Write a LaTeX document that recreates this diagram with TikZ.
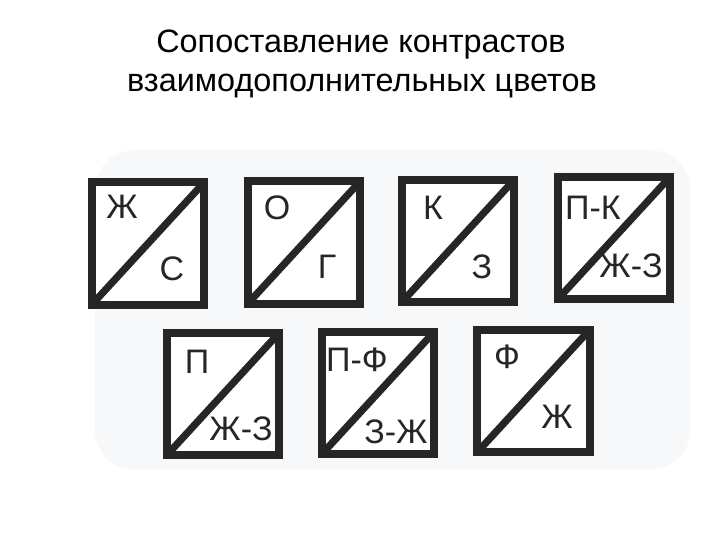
\documentclass[tikz,border=0pt]{standalone}
\usepackage{fontspec}
\setmainfont{Liberation Sans}
\definecolor{ink}{HTML}{262626}
\definecolor{bg}{HTML}{F6F8FA}
\begin{document}
\begin{tikzpicture}[x=0.5pt,y=-0.5pt,
  box/.style={fill=white, minimum width=56pt, minimum height=61pt, inner sep=0pt},
  frame/.style={draw=ink, line width=4pt},
  diag/.style={draw=ink, line width=3.6pt},
  lbl/.style={text=ink, font=\fontsize{17}{19}\selectfont, inner sep=0pt},
  ttl/.style={text=black, font=\fontsize{16.2}{18}\selectfont, inner sep=0pt, anchor=base}]
\useasboundingbox (0,0) rectangle (720,540);
\fill[white] (0,0) rectangle (720,540);
\fill[bg, rounded corners=20pt] (95,150) rectangle (690,470);
% title
\node[ttl] (t1) at (361,53) {Сопоставление контрастов};
\node[ttl] (t2) at (362,92) {взаимодополнительных цветов};
% boxes
\node[box] (b1) at (148,243.5) {};
\node[box] (b2) at (304,242.5) {};
\node[box] (b3) at (458,241) {};
\node[box] (b4) at (614,238) {};
\node[box] (b5) at (223,394) {};
\node[box] (b6) at (378,393) {};
\node[box] (b7) at (533.5,391) {};
\foreach \b in {b1,b2,b3,b4,b5,b6,b7}{
  \draw[diag] (\b.south west) -- (\b.north east);
  \draw[frame] (\b.south west) rectangle (\b.north east);
}
% labels
\node[lbl] (l1a) at (122,207) {Ж};
\node[lbl] (l1b) at (172,269) {С};
\node[lbl] (l2a) at (277,208) {О};
\node[lbl] (l2b) at (327,267) {Г};
\node[lbl] (l3a) at (433,208) {К};
\node[lbl] (l3b) at (482,267) {З};
\node[lbl] (l4a) at (593,208) {П-К};
\node[lbl] (l4b) at (631,266) {Ж-З};
\node[lbl] (l5a) at (197,362) {П};
\node[lbl] (l5b) at (241,429) {Ж-З};
\node[lbl] (l6a) at (357,360) {П-Ф};
\node[lbl] (l6b) at (396,432) {З-Ж};
\node[lbl] (l7a) at (507,357) {Ф};
\node[lbl] (l7b) at (557,417) {Ж};
\end{tikzpicture}
\end{document}
